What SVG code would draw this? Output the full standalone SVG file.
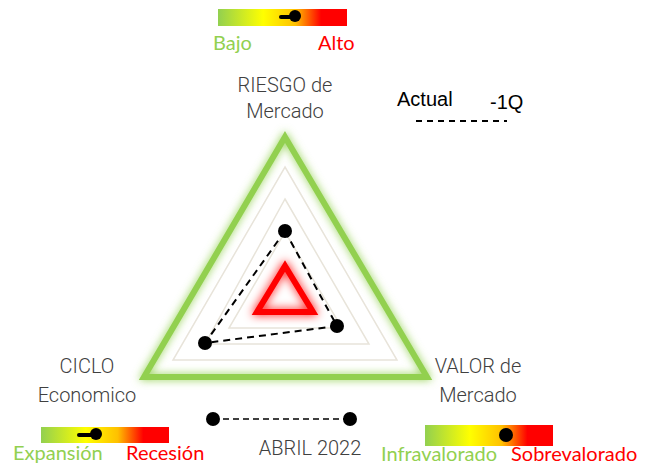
<svg xmlns="http://www.w3.org/2000/svg" width="650" height="466" viewBox="0 0 650 466">
  <defs>
    <linearGradient id="scale" x1="0" y1="0" x2="1" y2="0">
      <stop offset="0" stop-color="#92d050"/>
      <stop offset="0.35" stop-color="#ffff00"/>
      <stop offset="0.6" stop-color="#ffc000"/>
      <stop offset="0.8" stop-color="#ff0000"/>
      <stop offset="1" stop-color="#ff0000"/>
    </linearGradient>
    <filter id="glowG" x="-20%" y="-20%" width="140%" height="140%">
      <feGaussianBlur in="SourceGraphic" stdDeviation="4" result="b"/>
      <feMerge><feMergeNode in="b"/><feMergeNode in="SourceGraphic"/></feMerge>
    </filter>
    <filter id="glowR" x="-60%" y="-60%" width="220%" height="220%">
      <feGaussianBlur in="SourceGraphic" stdDeviation="5" result="b"/>
      <feMerge><feMergeNode in="b"/><feMergeNode in="SourceGraphic"/></feMerge>
    </filter>
  </defs>
  <style>
    .lbl { font-family: Roboto, "Liberation Sans", sans-serif; font-weight: 300; font-size: 20px; fill: #404040; }
    .sc { font-family: Lato, "Liberation Sans", sans-serif; font-size: 20px; }
    .g { fill: #92d050; }
    .r { fill: #ff0000; }
    .grid { fill: none; stroke: #e8e4da; stroke-width: 1.5; }
    .dash { fill: none; stroke: #000; stroke-width: 2; stroke-dasharray: 7 5; }
    .dot { fill: #000; }
    .leg { font-family: "Liberation Sans", Arial, sans-serif; font-size: 20px; fill: #000; }
  </style>

  <g id="grid">
    <polygon class="grid" points="285,167 397,360 173,360"/>
    <polygon class="grid" points="285,199 369,344 205,344"/>
    <polygon class="grid" points="285,232 342,328 229,328"/>
  </g>
  <g id="outer-triangle">
    <polygon points="285,137 427,377 144,377" fill="none" stroke="#92d050" stroke-width="6" stroke-linejoin="miter" filter="url(#glowG)"/>
  </g>
  <g id="inner-triangle">
    <polygon points="285,266 313,312 257,312" fill="none" stroke="#ff0000" stroke-width="6" filter="url(#glowR)"/>
  </g>

  <g id="connectors">
    <polygon class="dash" points="285,231 337,326 205,343"/>
  </g>
  <g id="points">
    <circle class="dot" cx="285" cy="231" r="7"/>
    <circle class="dot" cx="337" cy="326" r="7"/>
    <circle class="dot" cx="205" cy="343" r="7"/>
  </g>

  <g id="label-riesgo">
    <text class="lbl" x="285" y="92" text-anchor="middle">RIESGO de</text>
    <text class="lbl" x="285" y="118" text-anchor="middle">Mercado</text>
  </g>
  <g id="label-ciclo">
    <text class="lbl" x="87" y="373" text-anchor="middle">CICLO</text>
    <text class="lbl" x="87" y="402" text-anchor="middle">Economico</text>
  </g>
  <g id="label-valor">
    <text class="lbl" x="478" y="373" text-anchor="middle">VALOR de</text>
    <text class="lbl" x="478" y="402" text-anchor="middle">Mercado</text>
  </g>

  <g id="legend-top">
    <text class="leg" x="397" y="106">Actual</text>
    <text class="leg" x="490" y="109">-1Q</text>
    <line x1="416" y1="121" x2="507" y2="121" stroke="#000" stroke-width="2" stroke-dasharray="6 5"/>
  </g>

  <g id="scale-riesgo">
    <rect x="218" y="9" width="129" height="17" fill="url(#scale)"/>
    <line x1="281" y1="17" x2="295" y2="17" stroke="#000" stroke-width="4" stroke-linecap="round"/>
    <circle class="dot" cx="295" cy="16" r="6"/>
    <text class="sc g" x="213" y="50">Bajo</text>
    <text class="sc r" x="318" y="50">Alto</text>
  </g>
  <g id="scale-ciclo">
    <rect x="41" y="427" width="128" height="16" fill="url(#scale)"/>
    <line x1="79" y1="435" x2="96" y2="435" stroke="#000" stroke-width="4" stroke-linecap="round"/>
    <circle class="dot" cx="96" cy="434" r="6"/>
    <text class="sc g" x="13" y="460">Expansión</text>
    <text class="sc r" x="126" y="460">Recesión</text>
  </g>
  <g id="scale-valor">
    <rect x="425" y="425" width="128" height="21" fill="url(#scale)"/>
    <circle class="dot" cx="506" cy="435" r="7"/>
    <text class="sc g" x="381" y="461">Infravalorado</text>
    <text class="sc r" x="511" y="461">Sobrevalorado</text>
  </g>

  <g id="legend-date">
    <line x1="213" y1="419" x2="350" y2="419" stroke="#000" stroke-width="1.5" stroke-dasharray="6 4"/>
    <circle class="dot" cx="213" cy="419" r="7"/>
    <circle class="dot" cx="350" cy="419" r="7"/>
    <text class="lbl" x="310" y="455" text-anchor="middle">ABRIL 2022</text>
  </g>
</svg>
